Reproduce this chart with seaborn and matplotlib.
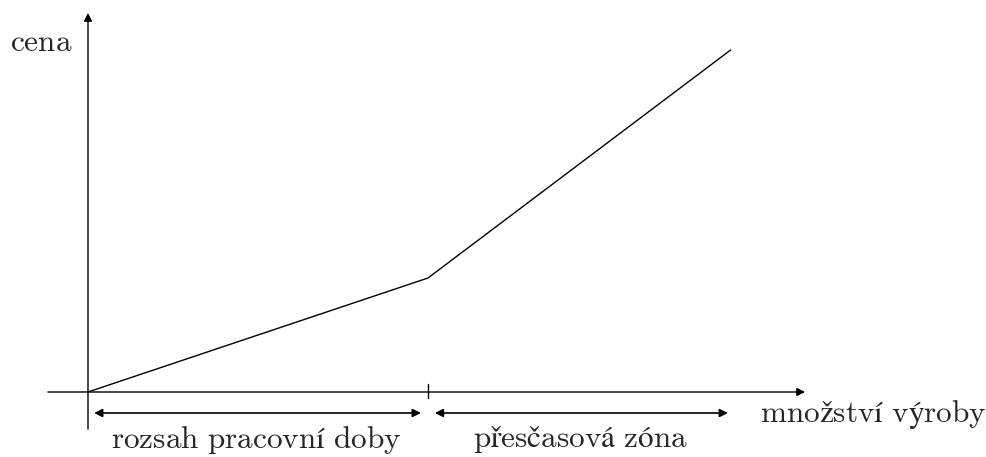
import pandas as pd
import matplotlib.pyplot as plt
import seaborn as sns

# piecewise cost curve: normal hours, then overtime
QUANTITY = [0, 10, 18.9]
PRICE = [0, 4, 12]
SPLIT = 10  # end of normal working hours

Y_LABEL = r"$\mathrm{cena}$"
X_LABEL = r"$\mathrm{množství\ výroby}$"
NORMAL_LABEL = r"$\mathrm{rozsah\ pracovní\ doby}$"
OVERTIME_LABEL = r"$\mathrm{přesčasová\ zóna}$"

sns.set_style("white")
plt.rcParams['mathtext.fontset'] = 'cm'


def main():
    df = pd.DataFrame({'q': QUANTITY, 'p': PRICE})
    fig = plt.figure(figsize=(9.87, 4.57), dpi=100)
    ax = fig.add_axes([0, 0, 1, 1])
    ax.set_xlim(-2.588, 26.44)
    ax.set_ylim(-2.281, 13.754)
    ax.axis('off')

    sns.lineplot(data=df, x='q', y='p', color='black', linewidth=1.0, ax=ax)

    ax_arrow = dict(arrowstyle='-|>', color='black', lw=1.0, mutation_scale=12,
                    shrinkA=0, shrinkB=0)
    ax.annotate('', xy=(21.09, 0), xytext=(-1.18, 0), arrowprops=ax_arrow)
    ax.annotate('', xy=(0, 13.3), xytext=(0, -1.3), arrowprops=ax_arrow)
    ax.plot([SPLIT, SPLIT], [-0.21, 0.28], color='black', lw=1.0)

    span = dict(arrowstyle='<|-|>', color='black', lw=1.2, mutation_scale=12,
                shrinkA=0, shrinkB=0)
    ax.annotate('', xy=(9.79, -0.737), xytext=(0.18, -0.737), arrowprops=span)
    ax.annotate('', xy=(18.82, -0.737), xytext=(10.2, -0.737), arrowprops=span)

    fs = 22.5
    ax.text(-0.45, 12.25, Y_LABEL, fontsize=fs, ha='right', va='center')
    ax.text(19.76, -0.8, X_LABEL, fontsize=fs, ha='left', va='center')
    ax.text(4.95, -1.68, NORMAL_LABEL, fontsize=fs, ha='center', va='center')
    ax.text(14.5, -1.68, OVERTIME_LABEL, fontsize=fs, ha='center', va='center')

    fig.savefig('out.png', dpi=100)


if __name__ == "__main__":
    main()
